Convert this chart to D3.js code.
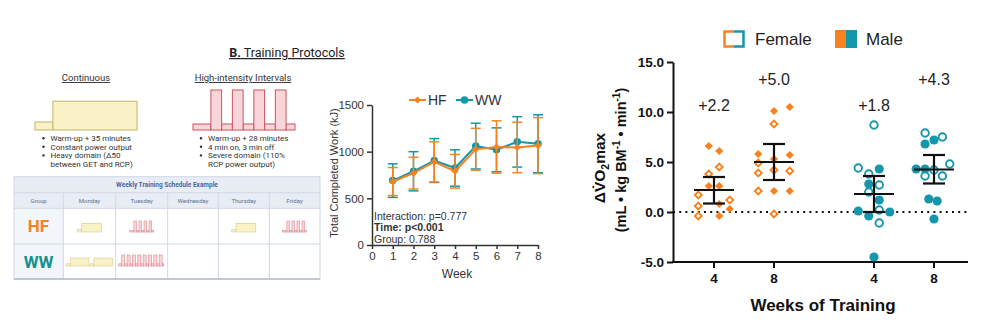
<!DOCTYPE html>
<html>
<head>
<meta charset="utf-8">
<script src="https://cdn.jsdelivr.net/npm/d3@7"></script>
<style>
  body { margin: 0; background: #fff; }
  svg { display: block; font-family: "Liberation Sans", Arial, sans-serif; }
</style>
</head>
<body>
<svg id="fig" width="1000" height="323"></svg>
<script>
/* protocol schematics: [duration units, relative intensity] */
const contSegs = [[5, 0.2], [23.5, 0.72]];
const hiitSegs = [[5, 0.15], [3, 1], [3, 0.15], [3, 1], [3, 0.15], [3, 1], [3, 0.15], [3, 1], [2.5, 0.15]];
const hiit2Segs = [[2, 0.2], [2, 1], [1.5, 0.2], [2, 1], [1.5, 0.2], [2, 1], [1.5, 0.2], [2, 1], [1.5, 0.2],
                   [2, 1], [1.5, 0.2], [2, 1], [1.5, 0.2], [2, 1], [1.5, 0.2], [2, 1], [1, 0.2]];
const contBullets = ["Warm-up + 35 minutes", "Constant power output", "Heavy domain (\u039450", "between GET and RCP)"];
const hiitBullets = ["Warm-up + 28 minutes", "4 min on, 3 min off", "Severe domain (110%", "RCP power output)"];
const days = ["Monday", "Tuesday", "Wednesday", "Thursday", "Friday"];
const hfSchedule = ["cont", "hiit", "", "cont", "hiit"];
const wwSchedule = ["cont2", "hiit2", "", "", ""];

/* total completed work, mean and SD per week */
const weeks = [1, 2, 3, 4, 5, 6, 7, 8];
const hfWork = [680, 770, 890, 790, 1025, 1050, 1045, 1065];
const hfSd = [150, 170, 215, 180, 225, 280, 270, 300];
const wwWork = [690, 790, 905, 825, 1060, 1020, 1105, 1085];
const wwSd = [180, 210, 235, 195, 245, 235, 270, 310];
const workTicks = [0, 500, 1000, 1500];
const weekTicks = [0, 1, 2, 3, 4, 5, 6, 7, 8];
const statLines = ["Interaction: p=0.777", "Time: p<0.001", "Group: 0.788"];

/* change in VO2max, individual values */
const groups = ["HF", "HF", "WW", "WW"];
const groupWeek = ["4", "8", "4", "8"];
const groupMean = [2.2, 5.0, 1.8, 4.25];
const groupLo = [0.85, 3.2, 0.0, 2.85];
const groupHi = [3.5, 6.8, 3.6, 5.7];
const meanLabels = ["+2.2", "+5.0", "+1.8", "+4.3"];
const vo2Ticks = [-5, 0, 5, 10, 15];

const hf4Vals = [6.6, 6.1, 4.5, 3.8, 2.6, 2.6, 1.7, 1.2, 0.8, 0.6, 0.3, -0.4, -0.4];
const hf4Sex  = ["M", "M", "F", "F", "M", "M", "F", "F", "M", "F", "M", "F", "M"];
const hf4Lane = [-0.5, 0.5, 0.5, -0.5, -0.5, 0.5, -1.5, 1.5, 0.5, -1.5, 1.5, -1.5, 0.5];

const hf8Vals = [10.1, 10.5, 8.8, 5.8, 5.7, 4.9, 5.3, 3.9, 4.2, 4.1, 2.1, 2.1, 2.1, -0.2];
const hf8Sex  = ["M", "M", "F", "M", "M", "F", "M", "F", "F", "F", "F", "M", "M", "F"];
const hf8Lane = [0, 1.5, 0, -1.5, 1.5, -1.5, 0, -1.5, 0, 1.5, -1.5, 0, 1.5, 0];

const ww4Vals = [8.7, 4.4, 3.8, 4.3, 2.8, 2.7, 2.0, 1.2, 0.1, 0.2, -0.4, 0.0, -1.1, -4.5];
const ww4Sex  = ["F", "F", "F", "M", "M", "F", "F", "M", "M", "F", "M", "M", "F", "M"];
const ww4Lane = [0, -1.5, -0.5, 0.5, -0.5, 0.5, -0.5, 0.5, -1.5, 0.5, -0.5, 1.5, 0.5, 0];

const ww8Vals = [7.9, 7.5, 7.2, 6.8, 4.3, 4.3, 4.8, 3.6, 3.6, 4.2, 1.3, 1.1, -0.7];
const ww8Sex  = ["F", "F", "M", "M", "M", "M", "F", "F", "F", "F", "M", "M", "M"];
const ww8Lane = [-0.85, 0.8, 0, -0.85, -1.7, -0.85, 1.5, 0.8, -0.85, 0, -0.5, 0.3, 0];

const orange = "#f7821f";
const teal = "#1597ab";
const svg = d3.select("#fig");

/* ================= left: training protocols ================= */
const left = svg.append("g").style("font-family", "Roboto, 'Liberation Sans', sans-serif");

const title = left.append("text").attr("x", 287).attr("y", 57).attr("text-anchor", "middle")
  .attr("font-size", 12.5).attr("fill", "#222").attr("text-decoration", "underline");
title.append("tspan").attr("font-weight", "bold").text("B.");
title.append("tspan").text(" Training Protocols");

left.append("text").attr("x", 86).attr("y", 81).attr("text-anchor", "middle")
  .attr("font-size", 9.5).attr("fill", "#333").attr("text-decoration", "underline").text("Continuous");
left.append("text").attr("x", 243).attr("y", 81).attr("text-anchor", "middle")
  .attr("font-size", 9.5).attr("fill", "#333").attr("text-decoration", "underline").text("High-intensity Intervals");

// draws a protocol as blocks; width/height in px
function drawProtocol(g, segs, x0, yBottom, w, h, fill, stroke, sw) {
  let total = d3.sum(segs, d => d[0]);
  let x = d3.scaleLinear().domain([0, total]).range([x0, x0 + w]);
  let y = d3.scaleLinear().domain([0, 1]).range([yBottom, yBottom - h]);
  let starts = d3.cumsum([0].concat(segs.map(d => d[0])));
  // low parts first, peaks on top
  let order = segs.map((d, i) => ({d: d, s: starts[i]})).sort((a, b) => a.d[1] - b.d[1]);
  g.selectAll(null).data(order).enter().append("rect")
    .attr("x", d => x(d.s))
    .attr("width", d => x(d.s + d.d[0]) - x(d.s))
    .attr("y", d => y(d.d[1]))
    .attr("height", d => yBottom - y(d.d[1]))
    .attr("fill", fill).attr("stroke", stroke).attr("stroke-width", sw);
}

const contFill = "#f8f2c6", contStroke = "#c4b46c";
const hiitFill = "#f9d5d9", hiitStroke = "#c95560";
drawProtocol(left, contSegs, 35, 130, 102, 40, contFill, contStroke, 1);
drawProtocol(left, hiitSegs, 193, 130, 102, 40, hiitFill, hiitStroke, 1);

function bullets(lines, x, y0) {
  lines.forEach((t, i) => {
    if (i < 3) left.append("circle").attr("cx", x).attr("cy", y0 + i * 8.6 - 2.8).attr("r", 1.2).attr("fill", "#333");
    left.append("text").attr("x", x + 7).attr("y", y0 + i * 8.6).attr("font-size", 8).attr("fill", "#333").text(t);
  });
}
bullets(contBullets, 43.5, 141);
bullets(hiitBullets, 201, 141);

// weekly schedule table
const colX = [14, 63.3, 115.7, 167.7, 218.3, 269.3, 320];
const rowY = [176.7, 192.7, 208.3, 244, 279];
const tbl = left.append("g");
tbl.append("rect").attr("x", colX[0]).attr("y", rowY[0]).attr("width", colX[6] - colX[0]).attr("height", rowY[4] - rowY[0])
  .attr("fill", "#fff");
tbl.append("rect").attr("x", colX[0]).attr("y", rowY[0]).attr("width", colX[6] - colX[0]).attr("height", rowY[2] - rowY[0])
  .attr("fill", "#e8edf5");
tbl.append("rect").attr("x", colX[0]).attr("y", rowY[2]).attr("width", colX[1] - colX[0]).attr("height", rowY[4] - rowY[2])
  .attr("fill", "#f2f5f9");
tbl.append("text").attr("x", (colX[0] + colX[6]) / 2).attr("y", rowY[0] + 10.5).attr("text-anchor", "middle")
  .attr("font-size", 6.5).attr("font-weight", "bold").attr("fill", "#4a66a0").text("Weekly Training Schedule Example");
const colLabels = ["Group"].concat(days);
colLabels.forEach((t, i) => {
  tbl.append("text").attr("x", (colX[i] + colX[i + 1]) / 2).attr("y", rowY[1] + 10.5).attr("text-anchor", "middle")
    .attr("font-size", 6).attr("fill", "#607090").text(t);
});
[rowY[1], rowY[2], rowY[3]].forEach(y => {
  tbl.append("line").attr("x1", colX[0]).attr("x2", colX[6]).attr("y1", y).attr("y2", y).attr("stroke", "#cfd8e5").attr("stroke-width", 1);
});
colX.slice(1, 6).forEach(x => {
  tbl.append("line").attr("x1", x).attr("x2", x).attr("y1", rowY[1]).attr("y2", rowY[4]).attr("stroke", "#cfd8e5").attr("stroke-width", 1);
});
tbl.append("rect").attr("x", colX[0]).attr("y", rowY[0]).attr("width", colX[6] - colX[0]).attr("height", rowY[4] - rowY[0])
  .attr("fill", "none").attr("stroke", "#cfd8e5").attr("stroke-width", 1);
tbl.append("line").attr("x1", colX[0]).attr("x2", colX[6]).attr("y1", rowY[4]).attr("y2", rowY[4]).attr("stroke", "#9aa6b8").attr("stroke-width", 1.2);

tbl.append("text").attr("x", 38.5).attr("y", 232).attr("text-anchor", "middle").attr("font-size", 17)
  .attr("font-weight", "bold").attr("fill", orange).text("HF");
tbl.append("text").attr("x", 38.5).attr("y", 268).attr("text-anchor", "middle").attr("font-size", 17)
  .attr("font-weight", "bold").attr("fill", "#13928a").text("WW");

function cellIcon(kind, i, yBottom) {
  let cx = (colX[i + 1] + colX[i + 2]) / 2;
  if (kind === "cont") drawProtocol(tbl, contSegs, cx - 12, yBottom, 24, 12, contFill, "#d6ca8e", 0.6);
  if (kind === "hiit") drawProtocol(tbl, hiitSegs, cx - 12, yBottom, 24, 11, hiitFill, "#d98a92", 0.6);
  if (kind === "cont2") {
    drawProtocol(tbl, contSegs, cx - 23, yBottom, 22.5, 11, contFill, "#d6ca8e", 0.6);
    drawProtocol(tbl, contSegs, cx + 0.5, yBottom, 22.5, 11, contFill, "#d6ca8e", 0.6);
  }
  if (kind === "hiit2") drawProtocol(tbl, hiit2Segs, cx - 23, yBottom, 45, 11, hiitFill, "#d98a92", 0.6);
}
hfSchedule.forEach((k, i) => cellIcon(k, i, 232));
wwSchedule.forEach((k, i) => cellIcon(k, i, 266));

/* ================= middle: completed work ================= */
const mid = svg.append("g");
const xW = d3.scaleLinear().domain([0, 8]).range([372, 538]);
const yW = d3.scaleLinear().domain([0, 1500]).range([245, 105]);
const axisCol = "#333";

const gx = mid.append("g").attr("transform", "translate(0,245)")
  .call(d3.axisBottom(xW).tickValues(weekTicks).tickSize(4).tickSizeOuter(0).tickPadding(3));
const gy = mid.append("g").attr("transform", "translate(372,0)")
  .call(d3.axisLeft(yW).tickValues(workTicks).tickFormat(d3.format("d")).tickSize(5).tickSizeOuter(0).tickPadding(3));
[gx, gy].forEach(g => {
  g.select(".domain").attr("stroke", axisCol).attr("stroke-width", 1.5);
  g.selectAll(".tick line").attr("stroke", axisCol).attr("stroke-width", 1.5);
  g.selectAll(".tick text").attr("font-size", 11.5).attr("fill", "#333")
    .style("font-family", "'Liberation Sans', Arial, sans-serif");
});
mid.append("text").attr("x", 457).attr("y", 278).attr("text-anchor", "middle").attr("font-size", 12).attr("fill", "#333").text("Week");
mid.append("text").attr("transform", "translate(338,173) rotate(-90)").attr("text-anchor", "middle")
  .attr("font-size", 11).attr("fill", "#333").text("Total Completed Work (kJ)");

function workSeries(vals, sd, col, shape) {
  let g = mid.append("g");
  weeks.forEach((w, i) => {
    let x = xW(w);
    g.append("line").attr("x1", x).attr("x2", x).attr("y1", yW(vals[i] - sd[i])).attr("y2", yW(vals[i] + sd[i]))
      .attr("stroke", col).attr("stroke-width", 1.5);
    [vals[i] - sd[i], vals[i] + sd[i]].forEach(v => {
      g.append("line").attr("x1", x - 5).attr("x2", x + 5).attr("y1", yW(v)).attr("y2", yW(v))
        .attr("stroke", col).attr("stroke-width", 1.5);
    });
  });
  g.append("path").datum(weeks.map((w, i) => [w, vals[i]]))
    .attr("d", d3.line().x(d => xW(d[0])).y(d => yW(d[1])))
    .attr("fill", "none").attr("stroke", col).attr("stroke-width", 2);
  g.selectAll(null).data(weeks).enter().append("path")
    .attr("d", shape)
    .attr("transform", (w, i) => "translate(" + xW(w) + "," + yW(vals[i]) + ")" + (shape === diamondS ? " rotate(45)" : ""))
    .attr("fill", col);
}
const diamondS = d3.symbol().type(d3.symbolSquare).size(26)();
const circleS = d3.symbol().type(d3.symbolCircle).size(44)();
workSeries(wwWork, wwSd, teal, circleS);
workSeries(hfWork, hfSd, orange, diamondS);

// legend
const legW = [{name: "HF", col: orange, shape: diamondS, x: 409}, {name: "WW", col: teal, shape: circleS, x: 456}];
legW.forEach(l => {
  mid.append("line").attr("x1", l.x).attr("x2", l.x + 17).attr("y1", 100).attr("y2", 100).attr("stroke", l.col).attr("stroke-width", 2);
  mid.append("path").attr("d", l.shape).attr("fill", l.col)
    .attr("transform", "translate(" + (l.x + 8.5) + ",100)" + (l.shape === diamondS ? " rotate(45)" : ""));
  mid.append("text").attr("x", l.x + 19).attr("y", 105).attr("font-size", 14).attr("fill", "#333").text(l.name);
});

statLines.forEach((t, i) => {
  mid.append("text").attr("x", 374).attr("y", 220 + i * 11.3).attr("font-size", 10.5).attr("fill", "#333")
    .attr("font-weight", i === 1 ? "bold" : "normal").text(t);
});

/* ================= right: delta VO2max ================= */
const rt = svg.append("g");
const yV = d3.scaleLinear().domain([-5, 15]).range([262, 62]);
const xGroup = d3.scalePoint().domain(["HF", "WW"]).range([744, 904]);
const xWeek = d3.scalePoint().domain(["4", "8"]).range([-30, 30]);
const laneW = 10.5;
const cx = i => xGroup(groups[i]) + xWeek(groupWeek[i]);

// zero line
rt.append("line").attr("x1", 673).attr("x2", 968).attr("y1", yV(0)).attr("y2", yV(0))
  .attr("stroke", "#111").attr("stroke-width", 2).attr("stroke-dasharray", "2,4.2");

const gyV = rt.append("g").attr("transform", "translate(673,0)")
  .call(d3.axisLeft(yV).tickValues(vo2Ticks).tickFormat(d3.format(".1f")).tickSize(6).tickSizeOuter(0).tickPadding(3));
gyV.select(".domain").attr("stroke", "#111").attr("stroke-width", 2);
gyV.selectAll(".tick line").attr("stroke", "#111").attr("stroke-width", 2);
gyV.selectAll(".tick text").attr("font-size", 13.5).attr("font-weight", "bold").attr("fill", "#111")
  .text(d => d < 0 ? "-" + d3.format(".1f")(-d) : d3.format(".1f")(d));

rt.append("line").attr("x1", 672).attr("x2", 968).attr("y1", 262).attr("y2", 262).attr("stroke", "#111").attr("stroke-width", 2);
groups.forEach((g, i) => {
  rt.append("line").attr("x1", cx(i)).attr("x2", cx(i)).attr("y1", 262).attr("y2", 268).attr("stroke", "#111").attr("stroke-width", 2);
  rt.append("text").attr("x", cx(i)).attr("y", 283).attr("text-anchor", "middle").attr("font-size", 13.5)
    .attr("font-weight", "bold").attr("fill", "#111").text(groupWeek[i]);
});
rt.append("text").attr("x", 823).attr("y", 311).attr("text-anchor", "middle").attr("font-size", 17)
  .attr("font-weight", "bold").attr("fill", "#111").text("Weeks of Training");

// y title
const t1 = rt.append("text").attr("transform", "translate(605,168) rotate(-90)").attr("text-anchor", "middle")
  .attr("font-size", 15.5).attr("font-weight", "bold").attr("fill", "#111");
t1.append("tspan").text("\u0394V\u0307O");
t1.append("tspan").attr("font-size", 10.5).attr("dy", 4).text("2");
t1.append("tspan").attr("dy", -4).text("max");
const t2 = rt.append("text").attr("transform", "translate(626,160) rotate(-90)").attr("text-anchor", "middle")
  .attr("font-size", 14.5).attr("font-weight", "bold").attr("fill", "#111");
t2.append("tspan").text("(mL \u2022 kg BM");
t2.append("tspan").attr("font-size", 10).attr("dy", -6).text("-1");
t2.append("tspan").attr("dy", 6).text(" \u2022 min");
t2.append("tspan").attr("font-size", 10).attr("dy", -6).text("-1");
t2.append("tspan").attr("dy", 6).text(")");

// points
const pointSets = [[hf4Vals, hf4Sex, hf4Lane], [hf8Vals, hf8Sex, hf8Lane], [ww4Vals, ww4Sex, ww4Lane], [ww8Vals, ww8Sex, ww8Lane]];
const dFill = d3.symbol().type(d3.symbolSquare).size(34)();
const dOpen = d3.symbol().type(d3.symbolSquare).size(24)();
const cFill = d3.symbol().type(d3.symbolCircle).size(66)();
const cOpen = d3.symbol().type(d3.symbolCircle).size(44)();
pointSets.forEach((set, gi) => {
  let col = groups[gi] === "HF" ? orange : teal;
  let isHF = groups[gi] === "HF";
  let pts = set[0].map((v, k) => ({v: v, sex: set[1][k], lane: set[2][k]}));
  rt.append("g").selectAll("path").data(pts).enter().append("path")
    .attr("d", d => isHF ? (d.sex === "M" ? dFill : dOpen) : (d.sex === "M" ? cFill : cOpen))
    .attr("transform", d => "translate(" + (cx(gi) + d.lane * laneW) + "," + yV(d.v) + ")" + (isHF ? " rotate(45)" : ""))
    .attr("fill", d => d.sex === "M" ? col : "#fff")
    .attr("stroke", d => d.sex === "M" ? "none" : col)
    .attr("stroke-width", 1.9);
});

// mean and error bars
groups.forEach((g, i) => {
  let x = cx(i);
  let eb = rt.append("g").attr("stroke", "#111").attr("stroke-width", 2.2);
  eb.append("line").attr("x1", x).attr("x2", x).attr("y1", yV(groupLo[i])).attr("y2", yV(groupHi[i]));
  eb.append("line").attr("x1", x - 20).attr("x2", x + 20).attr("y1", yV(groupMean[i])).attr("y2", yV(groupMean[i]));
  [groupLo[i], groupHi[i]].forEach(v => {
    eb.append("line").attr("x1", x - 11).attr("x2", x + 11).attr("y1", yV(v)).attr("y2", yV(v));
  });
  rt.append("text").attr("x", x).attr("y", i % 2 === 0 ? 111 : 85).attr("text-anchor", "middle")
    .attr("font-size", 16).attr("fill", "#222").text(meanLabels[i]);
});

// legend
const legV = rt.append("g");
legV.append("path").attr("d", "M734,31.5 H724.5 V46.5 H734").attr("fill", "none").attr("stroke", orange).attr("stroke-width", 2.5);
legV.append("path").attr("d", "M734,31.5 H743.5 V46.5 H734").attr("fill", "none").attr("stroke", teal).attr("stroke-width", 2.5);
legV.append("text").attr("x", 755).attr("y", 45).attr("font-size", 17).attr("fill", "#222").text("Female");
legV.append("rect").attr("x", 835).attr("y", 30).attr("width", 11).attr("height", 18).attr("fill", orange);
legV.append("rect").attr("x", 846).attr("y", 30).attr("width", 11).attr("height", 18).attr("fill", teal);
legV.append("text").attr("x", 866).attr("y", 45).attr("font-size", 17).attr("fill", "#222").text("Male");
</script>
</body>
</html>
